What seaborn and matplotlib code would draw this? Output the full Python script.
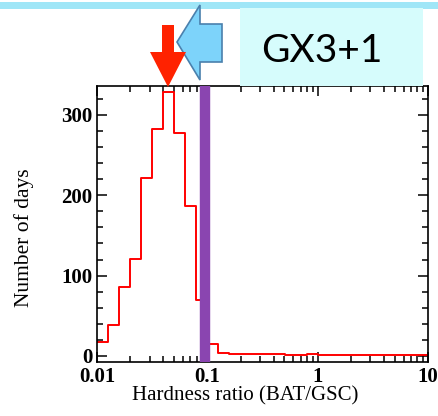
import numpy as np
import matplotlib
matplotlib.use("Agg")
import matplotlib.pyplot as plt
from matplotlib.patches import Polygon, Rectangle
import seaborn as sns

# ---- data ----
log_bin_start = -2.0
log_bin_width = 0.1
day_counts = [18, 39, 86, 121, 221, 283, 328, 277, 187, 70,
              14.5, 4, 2, 3, 2.5, 2.5, 2.5, 1, 1, 2,
              1, 1, 1, 1, 1, 1, 1, 1, 1, 1]
ratio_centers = 10 ** (log_bin_start + log_bin_width * (np.arange(len(day_counts)) + 0.5))
cut_ratio = 0.096
x_ticks = [0.01, 0.1, 1, 10]
x_tick_labels = ["0.01", "0.1", "1", "10"]
y_ticks = [0, 100, 200, 300]
source_name = "GX3+1"

sns.set_theme(style="ticks")
plt.rcParams["font.family"] = ["Liberation Serif", "DejaVu Serif"]
plt.rcParams["text.color"] = "black"
plt.rcParams["axes.labelcolor"] = "black"

fig = plt.figure(figsize=(4.38, 4.16), dpi=100)
ax = fig.add_axes([97 / 438, 1 - 362 / 416, (428 - 97) / 438, (362 - 86) / 416])

sns.histplot(x=ratio_centers, weights=day_counts, binwidth=log_bin_width,
             binrange=(log_bin_start, 1.0), log_scale=True, element="step",
             fill=False, color="#ff0000", linewidth=1.4, ax=ax)

ax.axvline(cut_ratio, color="#8a45b0", linewidth=7.5, zorder=3)

ax.set_xlim(0.01, 10)
ax.set_ylim(-7.5, 336)
ax.set_xticks(x_ticks)
ax.set_xticklabels(x_tick_labels)
ax.set_yticks(y_ticks)
ax.yaxis.set_minor_locator(matplotlib.ticker.MultipleLocator(20))
ax.tick_params(which="both", direction="in", top=True, right=True,
               labelsize=15, width=1.1, colors="black", labelcolor="black")
ax.tick_params(which="major", length=7)
ax.tick_params(which="minor", length=4)
for lab in ax.get_xticklabels() + ax.get_yticklabels():
    lab.set_fontweight("bold")
for s in ax.spines.values():
    s.set_linewidth(1.2)
    s.set_color("black")
ax.set_xlabel("Hardness ratio (BAT/GSC)", fontsize=15, color="black")
ax.xaxis.set_label_coords(0.447, -0.088)
ax.set_ylabel("Number of days", fontsize=15.5, color="black")
ax.yaxis.set_label_coords(-0.19, 0.45)

# ---- slide decorations (figure pixel coordinates, y from top) ----
W, H = 438, 416
def P(pts):
    return [(x / W, 1 - y / H) for x, y in pts]

fig.patches.append(Rectangle((0, 1 - 9 / H), 1, 7 / H, transform=fig.transFigure,
                             facecolor="#9fe6f7", edgecolor="none", zorder=0))
fig.patches.append(Rectangle((240 / W, 1 - 86 / H), 183 / W, 78 / H, transform=fig.transFigure,
                             facecolor="#d6fcfc", edgecolor="none", zorder=0))
fig.text(322 / W, 1 - 51 / H, source_name, fontsize=28, family=["Lato", "DejaVu Sans"],
         ha="center", va="center", color="black")

# red down arrow
fig.patches.append(Polygon(P([(162, 25), (174, 25), (174, 52), (186, 52), (168, 87),
                              (150, 52), (162, 52)]), closed=True, transform=fig.transFigure,
                           facecolor="#ff2200", edgecolor="none", zorder=5))
# blue left arrow
fig.patches.append(Polygon(P([(177, 42), (200, 5), (200, 24), (222, 24), (222, 62),
                              (200, 62), (200, 80)]), closed=True, transform=fig.transFigure,
                           facecolor="#7dd3fa", edgecolor="#4a80ad", linewidth=1.2, zorder=4))

fig.savefig("out.png", dpi=100)
